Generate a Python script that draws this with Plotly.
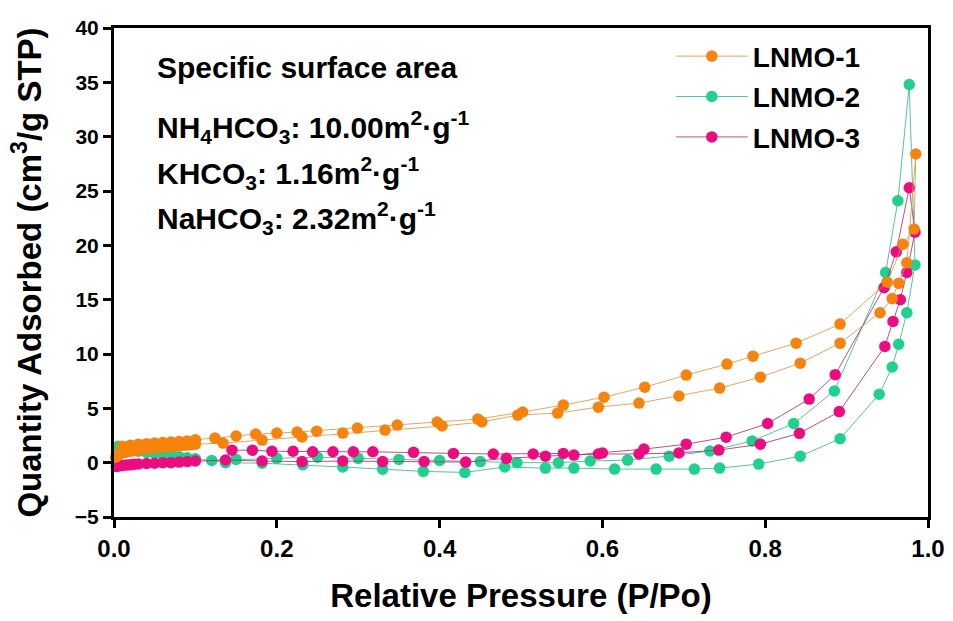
import plotly.graph_objects as go

# ---------------- data ----------------
# LNMO-1 : adsorption branch followed by desorption branch
p1 = [0.002, 0.004, 0.006, 0.008, 0.010, 0.013, 0.016, 0.020, 0.024, 0.028, 0.032, 0.036, 0.040,
      0.045, 0.050, 0.055, 0.060, 0.065, 0.070, 0.075, 0.080, 0.085, 0.090, 0.095, 0.100,
      0.134, 0.182, 0.231, 0.281, 0.333, 0.403, 0.452, 0.496, 0.545, 0.595, 0.645, 0.694, 0.744,
      0.794, 0.843, 0.892, 0.941, 0.956, 0.964, 0.974, 0.985,
      0.983, 0.969, 0.950, 0.892, 0.838, 0.785, 0.753, 0.703, 0.652, 0.602, 0.552, 0.502, 0.447,
      0.397, 0.348, 0.299, 0.249, 0.225, 0.200, 0.174, 0.150, 0.124, 0.100, 0.090, 0.080, 0.070,
      0.060, 0.050, 0.040, 0.030, 0.020, 0.010]
q1 = [0.5, 0.65, 0.75, 0.85, 0.9, 0.95, 1.0, 1.05, 1.1, 1.15, 1.2, 1.25, 1.3,
      1.32, 1.35, 1.4, 1.42, 1.45, 1.5, 1.52, 1.55, 1.6, 1.62, 1.65, 1.7,
      1.8, 2.08, 2.36, 2.72, 3.0, 3.37, 3.74, 4.38, 4.56, 5.11, 5.48, 6.13, 6.86,
      7.87, 9.16, 11.0, 13.8, 15.1, 16.5, 18.4, 28.4,
      21.5, 20.1, 16.6, 12.75, 11.0, 9.8, 9.07, 8.06, 6.95, 6.03, 5.3, 4.66, 4.01,
      3.74, 3.46, 3.18, 2.9, 2.82, 2.72, 2.63, 2.45, 2.26, 2.1, 2.0, 1.95, 1.9,
      1.85, 1.8, 1.75, 1.7, 1.6, 1.5]

# LNMO-2
p2 = [0.005, 0.010, 0.015, 0.020, 0.030, 0.040, 0.050, 0.060, 0.070, 0.080, 0.090, 0.100,
      0.137, 0.182, 0.232, 0.281, 0.330, 0.380,
      0.431, 0.480, 0.530, 0.565, 0.615, 0.666, 0.713, 0.744, 0.792, 0.843, 0.892, 0.940, 0.956,
      0.964, 0.974, 0.984, 0.977,
      0.963, 0.948, 0.885, 0.835, 0.784, 0.732, 0.682, 0.631, 0.585, 0.546, 0.495, 0.450, 0.400,
      0.350, 0.300, 0.250, 0.200, 0.150, 0.120]
q2 = [1.5, 1.35, 1.25, 1.15, 1.05, 0.95, 0.85, 0.75, 0.65, 0.55, 0.45, 0.35,
      0.0, -0.05, -0.2, -0.4, -0.6, -0.8,
      -0.9, -0.4, -0.5, -0.5, -0.59, -0.59, -0.59, -0.5, -0.13, 0.6, 2.2, 6.3, 8.8,
      10.9, 13.8, 18.2, 34.8,
      24.1, 17.5, 6.6, 3.6, 2.0, 1.07, 0.6, 0.24, 0.15, 0.0, 0.0, 0.1, 0.2,
      0.3, 0.4, 0.5, 0.4, 0.3, 0.2]

# LNMO-3
p3 = [0.003, 0.006, 0.010, 0.015, 0.020, 0.025, 0.030, 0.040, 0.050, 0.060, 0.070, 0.080,
      0.090, 0.100, 0.137, 0.182, 0.231, 0.281, 0.330,
      0.381, 0.432, 0.482, 0.530, 0.595, 0.645, 0.694, 0.743, 0.794, 0.842, 0.891, 0.947, 0.957,
      0.966, 0.974, 0.984, 0.977,
      0.961, 0.946, 0.886, 0.854, 0.803, 0.752, 0.703, 0.651, 0.600, 0.565, 0.552, 0.515, 0.466,
      0.417, 0.368, 0.318, 0.294, 0.269, 0.244, 0.220, 0.194, 0.170, 0.145]
q3 = [-0.35, -0.3, -0.25, -0.22, -0.2, -0.15, -0.12, -0.08, -0.05, 0.0, 0.0, 0.05,
      0.1, 0.15, 0.25, 0.15, 0.1, 0.15, 0.1,
      0.1, 0.05, 0.4, 0.6, 0.8, 0.8, 0.9, 1.16, 1.7, 2.7, 4.7, 10.7, 13.0,
      15.0, 17.5, 21.2, 25.3,
      19.4, 16.1, 8.1, 5.85, 3.6, 2.35, 1.7, 1.25, 0.9, 0.7, 0.85, 0.8, 0.8,
      0.85, 0.95, 1.0, 1.0, 1.0, 1.0, 1.05, 1.05, 1.15, 1.15]

names = ["LNMO-1", "LNMO-2", "LNMO-3"]
marker_colors = ["#F7830F", "#1FD08E", "#EC0C80"]
line_colors = ["rgba(220,150,80,0.85)", "rgba(60,185,140,0.85)", "rgba(170,50,110,0.85)"]

x_ticks = [0.0, 0.2, 0.4, 0.6, 0.8, 1.0]
y_ticks = [-5, 0, 5, 10, 15, 20, 25, 30, 35, 40]

annot_lines = [
    "Specific surface area",
    "NH<sub>4</sub>HCO<sub>3</sub>: 10.00m<sup>2</sup>·g<sup>-1</sup>",
    "KHCO<sub>3</sub>: 1.16m<sup>2</sup>·g<sup>-1</sup>",
    "NaHCO<sub>3</sub>: 2.32m<sup>2</sup>·g<sup>-1</sup>",
]
annot_y = [0.92, 0.797, 0.703, 0.611]

FONT = "Liberation Sans, Arial, sans-serif"

series = list(zip(names, [p1, p2, p3], [q1, q2, q3], marker_colors, line_colors, [1, 2, 3]))
draw_order = [1, 2, 0]  # green underneath, then pink, orange on top

fig = go.Figure()
for i in draw_order:
    name, px_, qy, mc, lc, rank = series[i]
    fig.add_trace(go.Scatter(
        x=px_, y=qy, name=name, mode="lines+markers",
        legendgroup=name, legendrank=rank,
        line=dict(color=lc, width=1),
        marker=dict(color=mc, size=11.5, line=dict(width=0)),
        cliponaxis=False,
    ))

for txt, yy in zip(annot_lines, annot_y):
    fig.add_annotation(
        x=0.05, y=yy, xref="paper", yref="paper", text=txt, showarrow=False,
        xanchor="left", yanchor="middle",
        font=dict(family=FONT, size=30, color="black", weight="bold"),
    )

axis_common = dict(
    showline=True, linewidth=3, linecolor="black", mirror=True,
    ticks="outside", ticklen=8, tickwidth=2.5, tickcolor="black",
    showgrid=False, zeroline=False, automargin=False,
)

fig.update_layout(
    width=953, height=621,
    margin=dict(l=114, r=25, t=28, b=104, autoexpand=False),
    paper_bgcolor="white", plot_bgcolor="white",
    xaxis=dict(range=[0, 1], tickvals=x_ticks, tickformat=".1f",
               tickfont=dict(family=FONT, size=24, color="black", weight="bold"),
               title=dict(text="Relative Pressure (P/Po)", standoff=24,
                          font=dict(family=FONT, size=33, color="black", weight="bold")),
               **axis_common),
    yaxis=dict(range=[-5, 40], tickvals=y_ticks,
               tickfont=dict(family=FONT, size=21, color="black", weight="bold"),
               title=dict(text="Quantity Adsorbed (cm<sup>3</sup>/g STP)", standoff=24,
                          font=dict(family=FONT, size=33, color="black", weight="bold")),
               **axis_common),
    legend=dict(x=0.684, y=0.993, xanchor="left", yanchor="top",
                bgcolor="rgba(0,0,0,0)", borderwidth=0, traceorder="grouped",
                font=dict(family=FONT, size=28, color="black", weight="bold"),
                tracegroupgap=1, itemwidth=72),
    showlegend=True,
)

fig.write_html("out.html")
